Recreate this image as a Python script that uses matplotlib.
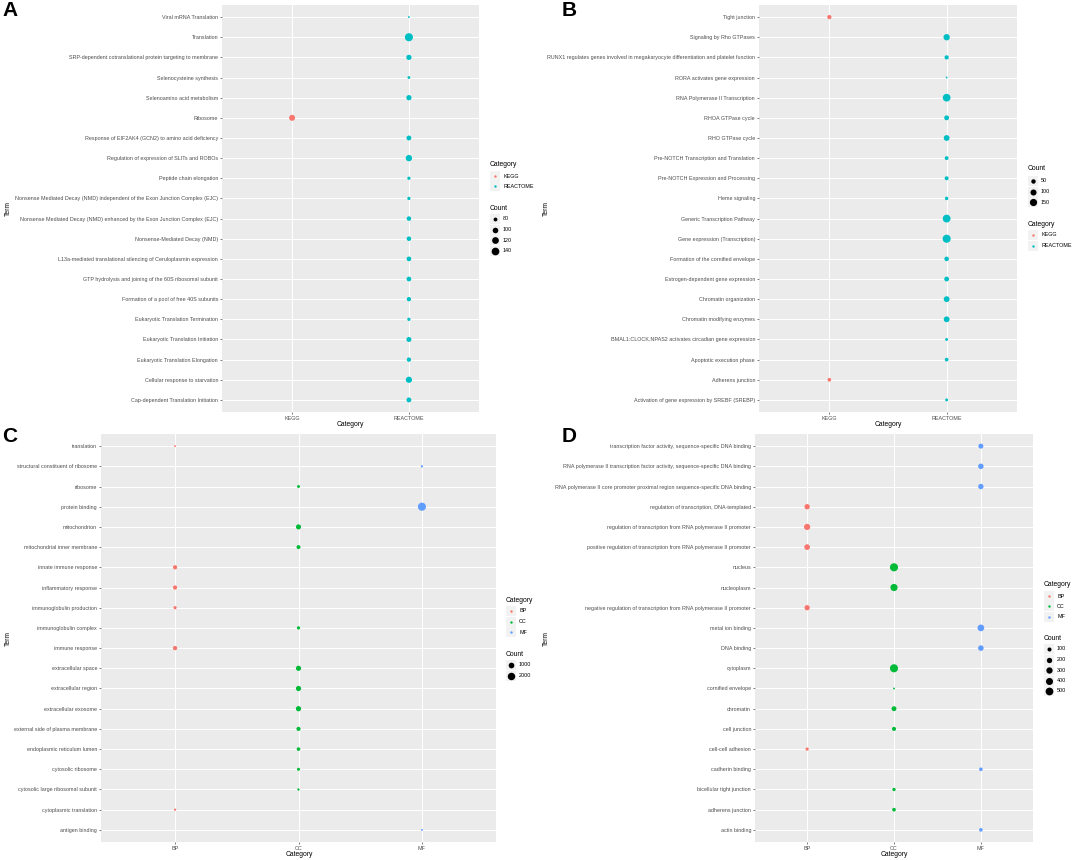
import matplotlib
matplotlib.use('Agg')
import matplotlib.pyplot as plt
import numpy as np
from matplotlib.patches import Rectangle

W, H, DPI = 1072, 860, 100
plt.rcParams['font.family'] = ['Liberation Sans', 'DejaVu Sans']

# ---------------- data ----------------
A_terms = ["Viral mRNA Translation", "Translation",
           "SRP-dependent cotranslational protein targeting to membrane",
           "Selenocysteine synthesis", "Selenoamino acid metabolism", "Ribosome",
           "Response of EIF2AK4 (GCN2) to amino acid deficiency",
           "Regulation of expression of SLITs and ROBOs", "Peptide chain elongation",
           "Nonsense Mediated Decay (NMD) independent of the Exon Junction Complex (EJC)",
           "Nonsense Mediated Decay (NMD) enhanced by the Exon Junction Complex (EJC)",
           "Nonsense-Mediated Decay (NMD)",
           "L13a-mediated translational silencing of Ceruloplasmin expression",
           "GTP hydrolysis and joining of the 60S ribosomal subunit",
           "Formation of a pool of free 40S subunits",
           "Eukaryotic Translation Termination", "Eukaryotic Translation Initiation",
           "Eukaryotic Translation Elongation", "Cellular response to starvation",
           "Cap-dependent Translation Initiation"]
A_cats = ["REACTOME"] * 5 + ["KEGG"] + ["REACTOME"] * 14
A_counts = [72, 150, 95, 74, 95, 106, 90, 112, 76, 76, 86, 86, 88, 88, 84, 76, 92, 84, 110, 90]
A_levels = ["KEGG", "REACTOME"]

B_terms = ["Tight junction", "Signaling by Rho GTPases",
           "RUNX1 regulates genes involved in megakaryocyte differentiation and platelet function",
           "RORA activates gene expression", "RNA Polymerase II Transcription",
           "RHOA GTPase cycle", "RHO GTPase cycle",
           "Pre-NOTCH Transcription and Translation", "Pre-NOTCH Expression and Processing",
           "Heme signaling", "Generic Transcription Pathway", "Gene expression (Transcription)",
           "Formation of the cornified envelope", "Estrogen-dependent gene expression",
           "Chromatin organization", "Chromatin modifying enzymes",
           "BMAL1:CLOCK,NPAS2 activates circadian gene expression",
           "Apoptotic execution phase", "Adherens junction",
           "Activation of gene expression by SREBF (SREBP)"]
B_cats = ["KEGG"] + ["REACTOME"] * 17 + ["KEGG", "REACTOME"]
B_counts = [45, 110, 45, 20, 175, 60, 90, 38, 40, 32, 180, 195, 52, 58, 90, 90, 25, 35, 35, 25]
B_levels = ["KEGG", "REACTOME"]

C_terms = ["translation", "structural constituent of ribosome", "ribosome", "protein binding",
           "mitochondrion", "mitochondrial inner membrane", "innate immune response",
           "inflammatory response", "immunoglobulin production", "immunoglobulin complex",
           "immune response", "extracellular space", "extracellular region",
           "extracellular exosome", "external side of plasma membrane",
           "endoplasmic reticulum lumen", "cytosolic ribosome",
           "cytosolic large ribosomal subunit", "cytoplasmic translation", "antigen binding"]
C_cats = ["BP", "MF", "CC", "MF", "CC", "CC", "BP", "BP", "BP", "CC",
          "BP", "CC", "CC", "CC", "CC", "CC", "CC", "CC", "BP", "MF"]
C_counts = [140, 150, 210, 2450, 760, 400, 470, 460, 240, 250,
            500, 800, 800, 810, 440, 320, 220, 150, 150, 140]
C_levels = ["BP", "CC", "MF"]

D_terms = ["transcription factor activity, sequence-specific DNA binding",
           "RNA polymerase II transcription factor activity, sequence-specific DNA binding",
           "RNA polymerase II core promoter proximal region sequence-specific DNA binding",
           "regulation of transcription, DNA-templated",
           "regulation of transcription from RNA polymerase II promoter",
           "positive regulation of transcription from RNA polymerase II promoter",
           "nucleus", "nucleoplasm",
           "negative regulation of transcription from RNA polymerase II promoter",
           "metal ion binding", "DNA binding", "cytoplasm", "cornified envelope", "chromatin",
           "cell junction", "cell-cell adhesion", "cadherin binding",
           "bicellular tight junction", "adherens junction", "actin binding"]
D_cats = ["MF", "MF", "MF", "BP", "BP", "BP", "CC", "CC", "BP", "MF",
          "MF", "CC", "CC", "CC", "CC", "BP", "MF", "CC", "CC", "MF"]
D_counts = [170, 210, 200, 200, 290, 230, 560, 420, 190, 350,
            220, 560, 35, 160, 100, 60, 75, 65, 80, 75]
D_levels = ["BP", "CC", "MF"]

A_breaks = [80, 100, 120, 140]
B_breaks = [50, 100, 150]
C_breaks = [1000, 2000]
D_breaks = [100, 200, 300, 400, 500]

COL2 = {"KEGG": "#F8766D", "REACTOME": "#00BFC4"}
COL3 = {"BP": "#F8766D", "CC": "#00BA38", "MF": "#619CFF"}

# ---------------- helpers ----------------
fig = plt.figure(figsize=(W / DPI, H / DPI), dpi=DPI)
ov = fig.add_axes([0, 0, 1, 1], zorder=10)
ov.set_xlim(0, W)
ov.set_ylim(H, 0)
ov.axis('off')
ov.patch.set_alpha(0)

PX = 72.0 / DPI  # points per pixel


def diam_px(c, lo, hi):
    t = (np.asarray(c, float) - lo) / (hi - lo)
    t = np.clip(t, 0, 1)
    size = 1 + 5 * np.sqrt(t)
    return 1.25 * size + 0.6


TICK_FS = 3.9
TITLE_FS = 4.9


def panel(box, terms, cats, counts, levels, colors):
    x0, y0, x1, y1 = box
    ax = fig.add_axes([x0 / W, 1 - y1 / H, (x1 - x0) / W, (y1 - y0) / H])
    ax.set_facecolor('#EBEBEB')
    n = len(terms)
    ypos = np.arange(n)
    xpos = [levels.index(c) for c in cats]
    ax.set_xlim(-0.6, len(levels) - 1 + 0.6)
    ax.set_ylim(n - 1 + 0.6, -0.6)
    ax.set_xticks(range(len(levels)))
    ax.set_xticklabels(levels)
    ax.set_yticks(ypos)
    ax.set_yticklabels(terms)
    ax.grid(True, color='white', linewidth=0.75)
    ax.set_axisbelow(True)
    for sp in ax.spines.values():
        sp.set_visible(False)
    ax.tick_params(length=1.6, width=0.45, color='#333333', labelsize=TICK_FS,
                   labelcolor='#4D4D4D', pad=1.2)
    lo, hi = min(counts), max(counts)
    d = diam_px(counts, lo, hi)
    ax.scatter(xpos, ypos, s=(d * PX) ** 2, c=[colors[c] for c in cats],
               linewidths=0, zorder=3)
    return lo, hi


def cat_legend(x, ytitle, ykeys, levels, colors):
    ov.text(x, ytitle, "Category", fontsize=TITLE_FS, ha='left', va='center', color='black')
    for lv, yk in zip(levels, ykeys):
        ov.add_patch(Rectangle((x, yk - 5), 10, 10, facecolor='#F2F2F2', edgecolor='none'))
        ov.scatter([x + 5], [yk], s=(2.4 * PX) ** 2, c=colors[lv], linewidths=0)
        ov.text(x + 13, yk, lv, fontsize=TICK_FS, ha='left', va='center', color='black')


def count_legend(x, ytitle, ykeys, breaks, lo, hi):
    ov.text(x, ytitle, "Count", fontsize=TITLE_FS, ha='left', va='center', color='black')
    d = diam_px(breaks, lo, hi)
    for b, yk, dd in zip(breaks, ykeys, d):
        ov.add_patch(Rectangle((x, yk - 5), 10, 10, facecolor='#F2F2F2', edgecolor='none'))
        ov.scatter([x + 5], [yk], s=(dd * PX) ** 2, c='black', linewidths=0)
        ov.text(x + 13, yk, str(b), fontsize=TICK_FS, ha='left', va='center', color='black')


def titles(xc, ybot, xterm, yterm):
    ov.text(xc, ybot, "Category", fontsize=TITLE_FS, ha='center', va='center', color='black')
    ov.text(xterm, yterm, "Term", fontsize=TITLE_FS, ha='center', va='center',
            rotation=90, color='black')


# ---------------- panels ----------------
loA, hiA = panel((222, 5, 479, 412), A_terms, A_cats, A_counts, A_levels, COL2)
loB, hiB = panel((759, 5, 1017, 412), B_terms, B_cats, B_counts, B_levels, COL2)
loC, hiC = panel((101, 434, 496, 842), C_terms, C_cats, C_counts, C_levels, COL3)
loD, hiD = panel((755, 434, 1033, 842), D_terms, D_cats, D_counts, D_levels, COL3)

titles(350, 425, 8, 208)
titles(888, 425, 546, 208)
titles(299, 854, 8, 638)
titles(894, 854, 546, 638)

cat_legend(490, 164, [176, 186], A_levels, COL2)
count_legend(490, 208, [219, 229.5, 240, 250.5], A_breaks, loA, hiA)

count_legend(1028, 169, [181, 191.5, 202], B_breaks, loB, hiB)
cat_legend(1028, 224, [235, 245.5], B_levels, COL2)

cat_legend(506, 600, [611, 621.5, 632], C_levels, COL3)
count_legend(506, 654, [665, 675.5], C_breaks, loC, hiC)

cat_legend(1044, 584, [596, 606, 616.5], D_levels, COL3)
count_legend(1044, 638, [649, 659.5, 670, 680.5, 691], D_breaks, loD, hiD)

for lab, x, y in [("A", 2, 11), ("B", 562, 11), ("C", 2, 436), ("D", 562, 436)]:
    ov.text(x, y, lab, fontsize=15, fontweight='bold', ha='left', va='center', color='black')

fig.savefig('out.png', dpi=DPI)
